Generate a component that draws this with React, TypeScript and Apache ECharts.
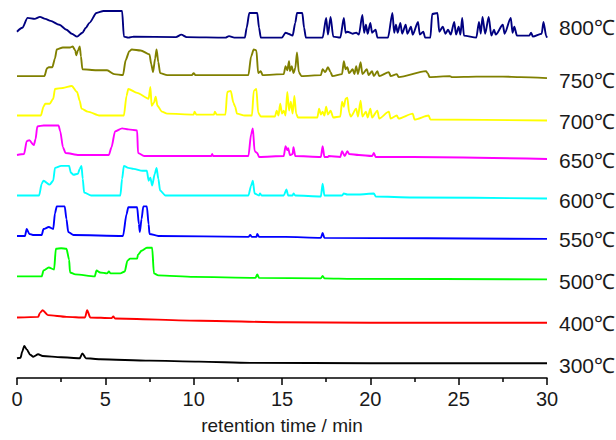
import React, { useEffect, useRef } from "react";
import * as echarts from "echarts";

// retention time (min) vs signal above each trace's own baseline (arbitrary units)
const temperatures = ["300℃", "400℃", "500℃", "550℃", "600℃", "650℃", "700℃", "750℃", "800℃"];
const offsets = [15, 56, 100, 141, 182, 222, 261, 304, 345];
const colors = ["#000000", "#ff0000", "#00ff00", "#0000ff", "#00ffff", "#ff00ff", "#ffff00", "#808000", "#000080"];

const t300 = [[0,5],[0.2,5.5],[0.3,12],[0.41,17.5],[0.55,14],[0.75,8.5],[0.92,6.5],[1.2,9],[1.45,7.3],[2.5,6],[3.55,5],[3.7,10],[3.9,5],[4.7,4],[7.5,2.6],[10.3,1.6],[13.2,0.3],[20,0],[30,0]];

const t400 = [[0,5.3],[1.2,6],[1.3,10],[1.45,12.7],[1.75,7.7],[2.8,6],[3.85,5.3],[3.97,12.7],[4.15,5.3],[5.35,4.7],[5.45,6.3],[5.55,4.3],[10.4,2],[15,0.5],[20,0],[30,0]];

const t500 = [[0,3],[1.4,3],[1.5,9],[1.8,12],[2.1,10],[2.2,31],[2.5,31.5],[2.8,31],[2.95,20],[3.0,7],[3.3,5],[4.4,3],[4.5,9],[4.7,7],[5.1,6],[5.2,8],[5.3,6],[5.85,6],[6.1,8],[6.25,19],[6.4,21],[6.8,21],[6.85,25],[7.05,29],[7.35,32],[7.65,32],[7.75,6],[8,4],[10,2.5],[13.5,1.5],[13.6,5],[13.7,1.5],[17.2,1],[17.3,3.5],[17.4,1],[19,0.5],[30,0]];

const t550 = [[0,3],[0.45,3],[0.55,10],[0.7,5],[0.9,4],[1.4,4],[1.5,10],[1.8,12],[2.05,10],[2.15,26],[2.25,33],[2.7,33],[2.8,20],[2.9,7],[3.2,4],[6.0,3],[6.2,25],[6.3,32],[6.8,32],[6.9,15],[6.95,7],[7.05,20],[7.15,33],[7.35,33],[7.45,15],[7.5,5],[8,3],[13.1,2],[13.2,4],[13.3,2],[13.55,2],[13.6,5],[13.7,2],[15.2,2],[17.2,1],[17.3,6],[17.4,1],[30,0]];

const t600 = [[0,3],[1.25,3],[1.4,15],[1.5,18],[1.85,14],[2.05,18],[2.15,31],[2.5,33],[2.95,33],[3.05,26],[3.2,24],[3.45,25],[3.55,30],[3.65,33],[3.72,20],[3.8,6],[4.2,3],[5.85,3],[5.95,20],[6.05,33],[6.3,31],[6.6,30],[7.1,28],[7.35,28],[7.45,18],[7.55,21],[7.65,13],[7.8,25],[7.9,31],[8.0,20],[8.1,8],[8.4,3],[13.1,3],[13.25,13],[13.35,18],[13.45,5],[13.7,3],[13.75,5],[13.85,3],[15.1,3],[15.25,9],[15.35,3],[15.6,3],[15.65,5],[15.75,3],[17.2,2],[17.3,15],[17.4,3],[18.4,3],[18.5,5],[18.7,4],[19.35,4],[20.2,5],[20.3,2],[22.4,1],[30,0]];

const t650 = [[0,4],[0.4,5],[0.55,18],[0.7,19],[0.95,14],[1.05,20],[1.15,33],[1.5,34],[2.35,34],[2.45,28],[2.6,12],[2.75,6],[3.5,4],[5.2,4],[5.35,12],[5.55,28],[5.95,31],[6.3,30],[6.8,29],[6.85,6],[7.2,3],[7.55,3],[11.0,3],[11.05,5],[11.1,3],[13.1,3],[13.25,25],[13.35,31],[13.45,8],[13.6,6],[13.7,2],[15.1,3],[15.2,13],[15.3,9],[15.35,11],[15.45,4],[15.6,5],[15.65,12],[15.75,3],[17.2,2],[17.3,13],[17.4,2],[17.6,2],[17.65,3],[18.3,2],[18.4,8],[18.55,3],[18.7,8],[18.8,5],[19.35,4],[20.1,3],[20.2,6],[20.3,2],[22.4,2],[30,0]];

const t700 = [[0,5],[1.35,5],[1.5,14],[1.6,17],[1.85,17],[2.05,22],[2.15,32],[2.6,33],[3.1,35],[3.4,29],[3.55,20],[3.65,12],[4.0,9],[4.7,5],[6.05,5],[6.2,25],[6.3,32],[6.8,28],[7.45,22],[7.55,34],[7.62,15],[7.75,18],[7.85,24],[7.95,15],[8.2,9],[8.5,7],[10.0,6],[10.05,9],[10.15,6],[11.15,6],[11.2,9],[11.3,6],[11.8,6],[11.9,29],[12.1,30],[12.25,18],[12.35,14],[12.45,7],[12.9,5],[13.3,5],[13.4,30],[13.55,32],[13.65,8],[13.8,4],[14.6,4],[14.7,10],[14.8,5],[14.9,17],[15.0,7],[15.1,10],[15.2,5],[15.3,29],[15.4,10],[15.5,19],[15.6,7],[15.7,25],[15.8,7],[15.9,3],[17.0,3],[17.1,12],[17.2,6],[17.3,9],[17.4,5],[17.5,14],[17.6,6],[17.75,10],[17.9,3],[18.3,4],[18.4,19],[18.5,14],[18.6,22],[18.7,23],[18.8,8],[18.9,4],[19.2,12],[19.3,4],[19.45,20],[19.55,4],[19.75,9],[19.85,3],[20.0,12],[20.1,3],[20.4,10],[20.5,2],[21.05,9],[21.15,2],[21.5,5],[21.6,2],[22.4,7],[22.5,1],[23.3,5],[23.4,1],[30,0]];

const t750 = [[0,2],[1.55,2],[1.7,10],[1.8,11],[2.0,11],[2.15,20],[2.25,29],[2.6,31],[3.0,31],[3.15,32],[3.3,28],[3.35,23],[3.45,28],[3.55,32],[3.62,22],[3.7,9],[4.5,8],[5.1,8],[5.5,4],[6.0,3],[6.15,18],[6.35,27],[6.5,29],[7.0,28],[7.5,24],[7.6,14],[7.7,6],[7.82,20],[7.9,29],[8.0,16],[8.1,5],[8.5,3],[9.9,3],[10.0,5],[10.1,3],[13.1,3],[13.25,22],[13.4,29],[13.55,28],[13.65,5],[13.8,7],[13.9,3],[15.1,4],[15.2,12],[15.3,8],[15.4,17],[15.45,7],[15.55,12],[15.65,5],[15.75,10],[15.85,26],[15.95,6],[16.1,2],[17.2,3],[17.3,9],[17.45,6],[17.6,11],[17.75,6],[17.85,2],[18.4,4],[18.5,17],[18.6,9],[18.7,11],[18.8,5],[19.0,9],[19.1,4],[19.2,12],[19.3,4],[19.45,16],[19.55,4],[19.8,9],[19.9,3],[20.1,7],[20.2,2],[20.4,7],[20.5,2],[21.05,6],[21.15,2],[21.5,4],[21.6,1],[23.15,7],[23.25,5],[23.35,1],[24.5,2],[24.6,1],[26.0,1.5],[27.5,1.5],[28.5,1],[30,0]];

const t800 = [[0,6],[0.3,10],[0.6,20],[1.0,19],[1.3,21],[1.6,19],[1.9,17],[2.4,13],[2.8,8],[3.1,4],[3.4,1],[3.7,5],[3.9,10],[4.1,15],[4.5,25],[4.9,27],[5.5,27],[5.95,27],[6.05,1],[6.3,0],[6.6,1],[9.0,0.5],[9.3,3],[9.6,0.5],[11.8,0],[12.0,1.5],[12.3,0],[12.9,0],[13.0,10],[13.15,25],[13.6,25],[13.7,10],[13.8,0],[15.0,0],[15.2,5],[15.35,4],[15.6,2],[15.75,15],[15.85,25],[16.15,25],[16.25,10],[16.35,0],[17.3,0],[17.5,20],[17.6,3],[17.75,21],[17.9,1],[18.3,0],[18.5,20],[18.6,5],[18.7,6],[19.0,4],[19.2,5],[19.35,3],[19.55,23],[19.65,5],[19.75,13],[19.85,4],[20.0,15],[20.1,5],[20.3,8],[20.4,0],[21.0,0],[21.25,25],[21.35,5],[21.45,13],[21.55,5],[21.7,15],[21.8,4],[22.0,13],[22.1,4],[22.3,11],[22.4,3],[22.7,16],[22.8,3],[23.0,6],[23.1,0],[23.4,0],[23.5,24],[23.8,25],[23.9,6],[24.1,11],[24.25,4],[24.4,8],[24.55,3],[24.75,16],[24.85,3],[25.0,11],[25.1,3],[25.2,20],[25.3,2],[26.0,0],[26.15,16],[26.25,4],[26.35,21],[26.5,4],[26.7,21],[26.85,2],[27.0,8],[27.1,3],[27.5,13],[27.6,4],[27.95,20],[28.05,5],[28.15,11],[28.3,2],[29.0,2],[29.1,5],[29.2,1],[29.7,4],[29.8,16],[29.95,2],[30.0,0]];

const traces = [t300, t400, t500, t550, t600, t650, t700, t750, t800];
const xTicks = [0, 5, 10, 15, 20, 25, 30];

export default function App() {
  const ref = useRef<HTMLDivElement>(null);
  useEffect(() => {
    if (!ref.current) return;
    const chart = echarts.init(ref.current, undefined, { renderer: "svg" });
    const labelDy = [2, 1, 2, 1, 2, 2, 1, 2, -10];
    const series = traces.map((tr, i) => ({
      type: "line",
      name: temperatures[i],
      data: tr.map(([t, s]) => [t, offsets[i] + s]),
      symbol: "none",
      smooth: 0.25,
      smoothMonotone: "x",
      lineStyle: { color: colors[i], width: 1.9 },
      itemStyle: { color: colors[i] },
      endLabel: {
        show: true,
        formatter: temperatures[i],
        color: "#1a1a1a",
        fontSize: 21,
        fontFamily: "Liberation Sans, Arial, sans-serif",
        distance: 0,
        offset: [12, labelDy[i]],
      },
      z: 2 + i,
    }));
    chart.setOption({
      animation: false,
      backgroundColor: "#ffffff",
      grid: { left: 17, right: 69, top: 10, bottom: 57 },
      xAxis: {
        type: "value",
        min: xTicks[0],
        max: xTicks[xTicks.length - 1],
        interval: 5,
        name: "retention time / min",
        nameLocation: "middle",
        nameGap: 38,
        nameTextStyle: { fontSize: 19, color: "#1a1a1a", fontFamily: "Liberation Sans, Arial, sans-serif" },
        axisLine: { show: true, lineStyle: { color: "#000", width: 1.5 } },
        axisTick: { show: true, length: 7, lineStyle: { color: "#000", width: 1.5 } },
        minorTick: { show: true, splitNumber: 2, length: 4, lineStyle: { color: "#000", width: 1.5 } },
        axisLabel: { fontSize: 20, color: "#1a1a1a", margin: 11, fontFamily: "Liberation Sans, Arial, sans-serif" },
        splitLine: { show: false },
        minorSplitLine: { show: false },
      },
      yAxis: { type: "value", min: 0, max: 373, show: false },
      series,
    });
    return () => chart.dispose();
  }, []);
  return <div ref={ref} style={{ position: "absolute", left: 0, top: 0, width: 616, height: 440 }} />;
}
